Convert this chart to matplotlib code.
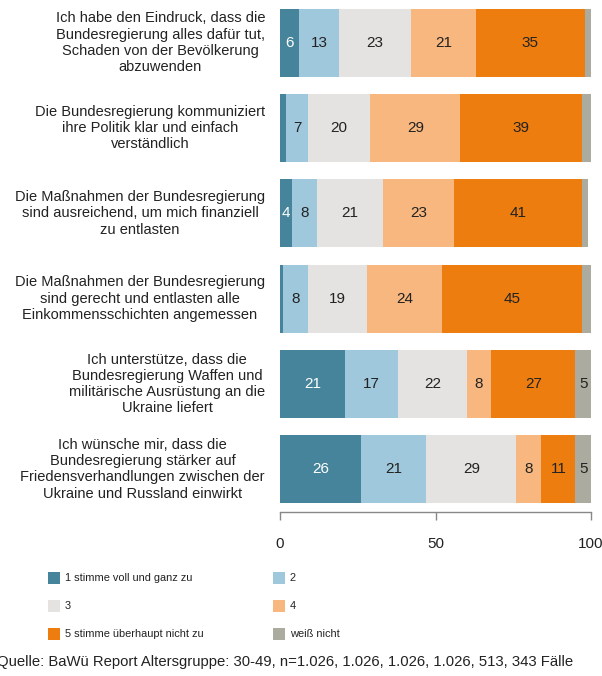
import matplotlib
matplotlib.use("Agg")
import matplotlib.pyplot as plt
from matplotlib.patches import Rectangle

plt.rcParams['font.family'] = ['Liberation Sans', 'DejaVu Sans']

statements = [
    "Ich habe den Eindruck, dass die\nBundesregierung alles dafür tut,\nSchaden von der Bevölkerung\nabzuwenden",
    "Die Bundesregierung kommuniziert\nihre Politik klar und einfach\nverständlich",
    "Die Maßnahmen der Bundesregierung\nsind ausreichend, um mich finanziell\nzu entlasten",
    "Die Maßnahmen der Bundesregierung\nsind gerecht und entlasten alle\nEinkommensschichten angemessen",
    "Ich unterstütze, dass die\nBundesregierung Waffen und\nmilitärische Ausrüstung an die\nUkraine liefert",
    "Ich wünsche mir, dass die\nBundesregierung stärker auf\nFriedensverhandlungen zwischen der\nUkraine und Russland einwirkt",
]
series_names = ["1 stimme voll und ganz zu", "2", "3", "4",
                "5 stimme überhaupt nicht zu", "weiß nicht"]
v1 = [6, 2, 4, 1, 21, 26]
v2 = [13, 7, 8, 8, 17, 21]
v3 = [23, 20, 21, 19, 22, 29]
v4 = [21, 29, 23, 24, 8, 8]
v5 = [35, 39, 41, 45, 27, 11]
vw = [2, 3, 2, 3, 5, 5]
series = [v1, v2, v3, v4, v5, vw]
colors = ["#45849a", "#a0c8dc", "#e4e3e1", "#f7b77f", "#ee7d0f", "#abac9f"]
text_colors = ["white", "#222222", "#222222", "#222222", "#222222", "#222222"]
xticks = [0, 50, 100]
source = "Quelle: BaWü Report Altersgruppe: 30-49, n=1.026, 1.026, 1.026, 1.026, 513, 343 Fälle"

W, H = 602, 676
fig = plt.figure(figsize=(W/100, H/100), dpi=100)
ax = fig.add_axes([280/W, 1 - 512/H, 311/W, 512/H])

ypos = list(range(len(statements)))
left = [0]*len(statements)
for vals, c, tc in zip(series, colors, text_colors):
    ax.barh(ypos, vals, left=left, height=0.8, color=c, edgecolor='none')
    for y, v, l in zip(ypos, vals, left):
        if v >= 4:
            ax.text(l + v/2, y, str(v), ha='center', va='center',
                    fontsize=11, color=tc)
    left = [l + v for l, v in zip(left, vals)]

ax.set_xlim(0, 100)
ax.set_ylim(5.5, -0.5)
ax.set_yticks([])
for s in ['top', 'right', 'left']:
    ax.spines[s].set_visible(False)
ax.spines['bottom'].set_color('#888888')
ax.spines['bottom'].set_linewidth(1.0)
ax.set_xticks(xticks)
ax.set_xticklabels([str(t) for t in xticks])
ax.tick_params(axis='x', colors='#888888', length=6, width=1.0,
               labelcolor='#222222', labelsize=11, pad=12)

for y, s in zip(ypos, statements):
    ax.text(-15/3.11, y, s, ha='right', va='center', multialignment='center',
            fontsize=10.5, color='#222222', linespacing=1.2)

# legend (manual, two columns)
col_x = [48, 273]
row_y = [578, 606, 634]
for i in range(len(series_names)):
    r, c = divmod(i, 2)
    x0, yc = col_x[c], row_y[r]
    fig.add_artist(Rectangle((x0/W, 1 - (yc + 6)/H), 12/W, 12/H,
                             transform=fig.transFigure, color=colors[i], lw=0))
    fig.text((x0 + 17)/W, 1 - yc/H, series_names[i], ha='left', va='center',
             fontsize=7.9, color='#222222')

fig.text(-3/W, 1 - 662/H, source, ha='left', va='center', fontsize=10.7,
         color='#222222')

fig.savefig("out.png", dpi=100)
